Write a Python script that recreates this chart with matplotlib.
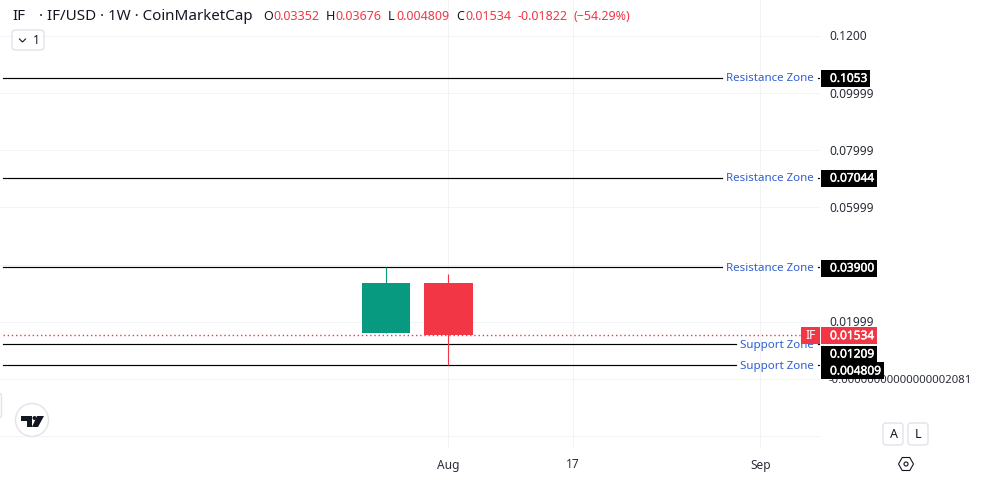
import math
import matplotlib
matplotlib.use('Agg')
import matplotlib.pyplot as plt
import matplotlib.patches as mpatches
import matplotlib.patheffects as pe
from matplotlib.transforms import blended_transform_factory, IdentityTransform

plt.rcParams['font.family'] = ['Noto Sans', 'DejaVu Sans']

# ---- data ----
opens = [0.0162, 0.03352]
highs = [0.03900, 0.03676]
lows = [0.0162, 0.004809]
closes = [0.03352, 0.01534]
last_price = 0.01534

level_values = [0.1053, 0.07044, 0.03900, 0.01209, 0.004809]
level_tags = ['0.1053', '0.07044', '0.03900', '0.01209', '0.004809']
level_names = ['Resistance Zone', 'Resistance Zone', 'Resistance Zone',
               'Support Zone', 'Support Zone']
# the two lowest tags get pushed down by the scale so they do not collide
tag_prices = [0.1053, 0.07044, 0.03900, 0.0089, 0.0030]

y_ticks = [0.12, 0.09999, 0.07999, 0.05999, 0.01999, -0.00000000000000002081]
y_tick_labels = ['0.1200', '0.09999', '0.07999', '0.05999', '0.01999',
                 '-0.00000000000000002081']
y_grid = [-0.02, 0.0, 0.02, 0.04, 0.06, 0.08, 0.10, 0.12]

x_ticks = [1, 3, 6]
x_tick_labels = ['Aug', '17', 'Sep']

GREEN = '#089981'
RED = '#f23645'
BLUE = '#2f5fd0'
GRID = '#f1f3f7'
TEXT = '#131722'
BORDER = '#e0e3eb'

W, H = 981, 479
PANE_W, PANE_H = 820, 448
PX_PER_PRICE = 2860

fig = plt.figure(figsize=(W / 100, H / 100), dpi=100, facecolor='white')
ax = fig.add_axes([0, 1 - PANE_H / H, PANE_W / W, PANE_H / H])
ax.set_xlim(-6.186, 6.955)
ax.set_ylim(-0.02413, 0.13252)
ax.axis('off')

# x in figure pixels, y in price
price_tf = blended_transform_factory(IdentityTransform(), ax.transData)


def top(px):
    return 1 - px / H


def fig_text(x, y, s, **kw):
    kw.setdefault('fontsize', 8.6)
    kw.setdefault('color', TEXT)
    kw.setdefault('va', 'center')
    return fig.text(x / W, top(y), s, **kw)


def fig_box(x0, y0, x1, y1, **kw):
    fig.add_artist(mpatches.FancyBboxPatch(
        (x0, H - y1), x1 - x0, y1 - y0, boxstyle='round,pad=0,rounding_size=3',
        transform=None, **kw))


# grid
for v in y_grid:
    ax.axhline(v, color=GRID, lw=0.72, zorder=0)
for t in x_ticks:
    ax.axvline(t, color=GRID, lw=0.72, zorder=0)

# last price line
ax.plot([3, 800], [last_price, last_price], color=RED, lw=1,
        ls=(0, (1, 2)), transform=price_tf, zorder=1)

# support / resistance lines
for v, name in zip(level_values, level_names):
    x_end = 722 if name.startswith('Res') else 736
    ax.plot([3, x_end], [v, v], color='black', lw=0.85, transform=price_tf, zorder=2)
    ax.plot([818, 821], [v, v], color='black', lw=0.85, transform=price_tf, zorder=2)
    ax.text(814, v - 0.0004, name, color=BLUE, fontsize=8.3, ha='right',
            va='center', transform=price_tf, zorder=5)

# candles
for i, (o, h, l, c) in enumerate(zip(opens, highs, lows, closes)):
    col = GREEN if c >= o else RED
    ax.vlines(i, l, h, color=col, lw=0.8, zorder=3)
    ax.bar(i, abs(c - o), bottom=min(o, c), width=0.785, color=col, lw=0, zorder=4)

# price scale labels
for v, s in zip(y_ticks, y_tick_labels):
    size = 8.2 if len(s) > 10 else 8.6
    nudge = 0.0007 if len(s) > 10 else 0.0004
    ax.text(829, v - nudge, s, color='#2a2e39', fontsize=size, va='center',
            transform=price_tf, zorder=6)

# price tags
bold = [pe.withStroke(linewidth=0.3, foreground='white')]
half_h = 8.5 / PX_PER_PRICE
for v, tag in zip(tag_prices + [last_price], level_tags + ['0.01534']):
    col = RED if v == last_price else 'black'
    ax.add_patch(mpatches.Rectangle((821, v - half_h - 0.0002), 7 * len(tag) + 7, 2 * half_h,
                                    color=col, lw=0, transform=price_tf,
                                    clip_on=False, zorder=7))
    ax.text(830, v - 0.0002, tag, color='white', fontsize=8.6, va='center',
            transform=price_tf, zorder=8, path_effects=bold)
ax.add_patch(mpatches.Rectangle((801, last_price - half_h - 0.0002), 19, 2 * half_h, color=RED,
                                lw=0, transform=price_tf, clip_on=False, zorder=7))
ax.text(810.5, last_price - 0.0002, 'IF', color='white', fontsize=8.6, ha='center', va='center',
        transform=price_tf, zorder=8)

# time axis
time_tf = blended_transform_factory(ax.transData, fig.transFigure)
for t, s in zip(x_ticks, x_tick_labels):
    ax.text(t, top(465), s, color='#2a2e39', fontsize=8.6, ha='center', va='center',
            transform=time_tf, clip_on=False)

# header
fig_text(12, 16.5, 'IF', fontsize=10.9)
fig_text(39, 16.5, '· IF/USD · 1W · CoinMarketCap', fontsize=10.9)
for x, letter, x2, val in [(263, 'O', 273, '0.03352'), (326, 'H', 335, '0.03676'),
                           (388, 'L', 396, '0.004809'), (456, 'C', 465, '0.01534')]:
    fig_text(x, 16.5, letter, fontsize=9)
    fig_text(x2, 16.5, val, fontsize=9, color=RED)
fig_text(517, 16.5, '-0.01822', fontsize=9, color=RED)
fig_text(573, 16.5, '(−54.29%)', fontsize=9, color=RED)

# legend collapse button
fig_box(12, 30, 44, 50, fc='white', ec=BORDER, lw=1)
fig.add_artist(plt.Line2D([19.5, 22.5, 25.5], [H - 39, H - 42, H - 39], color=TEXT,
                          lw=0.8, transform=None))
fig_text(36, 40.5, '1', ha='center', fontsize=8.6)

# A / L buttons
fig_box(883, 423, 903, 445, fc='white', ec=BORDER, lw=1)
fig_box(908, 423, 928, 445, fc='white', ec=BORDER, lw=1)
fig_text(893.5, 435, 'A', ha='center', fontsize=9)
fig_text(918, 435, 'L', ha='center', fontsize=9)

# settings icon
fig.add_artist(mpatches.RegularPolygon((906, H - 464), 6, radius=7.5,
                                       orientation=math.pi / 6, fc='white', ec=TEXT,
                                       lw=0.8, transform=None))
fig.add_artist(mpatches.Circle((906, H - 464), 2, fc='white', ec=TEXT, lw=0.8,
                               transform=None))

# sliver of the collapsed side toolbar at the left edge
fig_box(-10, 393, 1.5, 418, fc='white', ec=BORDER, lw=1)

# logo badge
fig.add_artist(mpatches.Circle((32, H - 420), 16.5, fc='white', ec=BORDER, lw=1,
                               transform=None))
for pts in ([(21, 416), (32, 416), (32, 427), (27, 427), (27, 421), (21, 421)],
            [(37, 416), (44, 416), (38, 427), (32, 427)]):
    fig.add_artist(mpatches.Polygon([(x, H - y) for x, y in pts], fc=TEXT, ec='none',
                                    transform=None))
fig.add_artist(mpatches.Circle((34.5, H - 418), 2, fc=TEXT, ec='none', transform=None))

fig.savefig('out.png', dpi=100)
